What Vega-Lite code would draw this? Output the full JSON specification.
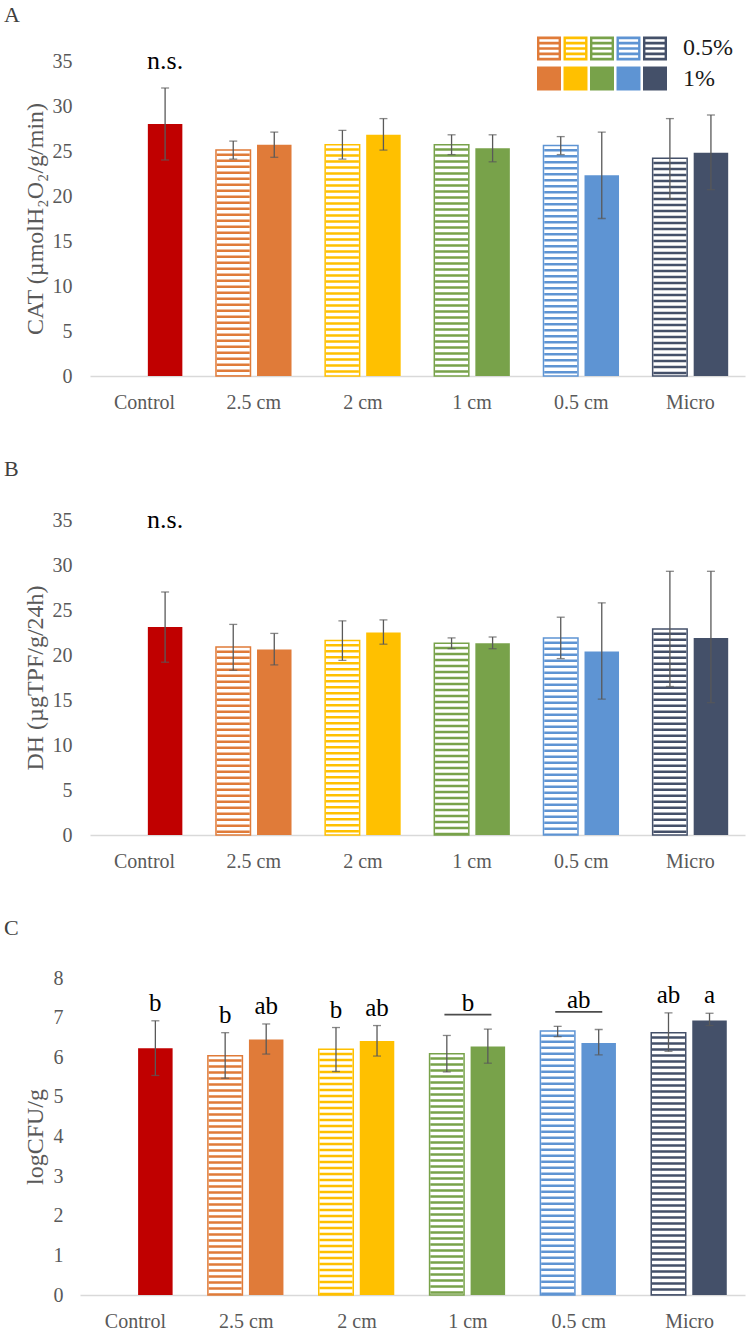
{
  "$schema": "https://vega.github.io/schema/vega-lite/v6.json",
  "background": "white",
  "padding": {"left": 4, "top": 4, "right": 0, "bottom": 0},
  "config": {
    "font": "Liberation Serif",
    "view": {"stroke": null},
    "axis": {"grid": false, "ticks": false, "labelFont": "Liberation Serif", "titleFont": "Liberation Serif", "labelColor": "#595959", "titleColor": "#595959", "labelFontSize": 20, "titleFontSize": 24, "titleFontWeight": "normal", "domainColor": "#D9D9D9"},
    "axisX": {"labelAngle": 0, "labelPadding": 16, "domainWidth": 1.5},
    "axisY": {"domain": false, "labelPadding": 18, "titlePadding": 5},
    "title": {"font": "Liberation Serif", "fontSize": 22, "fontWeight": "normal", "color": "#404040", "anchor": "start", "frame": "group"}
  },
  "columns": 1,
  "align": "none",
  "spacing": 46,
  "datasets": {
    "bars": [
      {"panel": "A", "group": "Control", "dose": "1%", "mean": 28.0, "lo": 24.0, "hi": 32.0, "note": "n.s."},
      {"panel": "A", "group": "2.5 cm", "dose": "0.5%", "mean": 25.1, "lo": 24.1, "hi": 26.1},
      {"panel": "A", "group": "2.5 cm", "dose": "1%", "mean": 25.7, "lo": 24.3, "hi": 27.1},
      {"panel": "A", "group": "2 cm", "dose": "0.5%", "mean": 25.7, "lo": 24.1, "hi": 27.3},
      {"panel": "A", "group": "2 cm", "dose": "1%", "mean": 26.8, "lo": 25.1, "hi": 28.6},
      {"panel": "A", "group": "1 cm", "dose": "0.5%", "mean": 25.7, "lo": 24.6, "hi": 26.8},
      {"panel": "A", "group": "1 cm", "dose": "1%", "mean": 25.3, "lo": 23.8, "hi": 26.8},
      {"panel": "A", "group": "0.5 cm", "dose": "0.5%", "mean": 25.6, "lo": 24.6, "hi": 26.6},
      {"panel": "A", "group": "0.5 cm", "dose": "1%", "mean": 22.3, "lo": 17.5, "hi": 27.1},
      {"panel": "A", "group": "Micro", "dose": "0.5%", "mean": 24.2, "lo": 19.7, "hi": 28.6},
      {"panel": "A", "group": "Micro", "dose": "1%", "mean": 24.8, "lo": 20.7, "hi": 29.0},
      {"panel": "B", "group": "Control", "dose": "1%", "mean": 23.1, "lo": 19.2, "hi": 27.0, "note": "n.s."},
      {"panel": "B", "group": "2.5 cm", "dose": "0.5%", "mean": 20.9, "lo": 18.3, "hi": 23.4},
      {"panel": "B", "group": "2.5 cm", "dose": "1%", "mean": 20.6, "lo": 18.9, "hi": 22.4},
      {"panel": "B", "group": "2 cm", "dose": "0.5%", "mean": 21.6, "lo": 19.4, "hi": 23.8},
      {"panel": "B", "group": "2 cm", "dose": "1%", "mean": 22.5, "lo": 21.2, "hi": 23.9},
      {"panel": "B", "group": "1 cm", "dose": "0.5%", "mean": 21.3, "lo": 20.7, "hi": 21.9},
      {"panel": "B", "group": "1 cm", "dose": "1%", "mean": 21.3, "lo": 20.7, "hi": 22.0},
      {"panel": "B", "group": "0.5 cm", "dose": "0.5%", "mean": 21.9, "lo": 19.6, "hi": 24.2},
      {"panel": "B", "group": "0.5 cm", "dose": "1%", "mean": 20.4, "lo": 15.1, "hi": 25.8},
      {"panel": "B", "group": "Micro", "dose": "0.5%", "mean": 22.9, "lo": 16.5, "hi": 29.3},
      {"panel": "B", "group": "Micro", "dose": "1%", "mean": 21.9, "lo": 14.7, "hi": 29.3},
      {"panel": "C", "group": "Control", "dose": "1%", "mean": 6.23, "lo": 5.54, "hi": 6.92, "letter": "b"},
      {"panel": "C", "group": "2.5 cm", "dose": "0.5%", "mean": 6.04, "lo": 5.47, "hi": 6.62, "letter": "b"},
      {"panel": "C", "group": "2.5 cm", "dose": "1%", "mean": 6.45, "lo": 6.08, "hi": 6.84, "letter": "ab"},
      {"panel": "C", "group": "2 cm", "dose": "0.5%", "mean": 6.2, "lo": 5.64, "hi": 6.75, "letter": "b"},
      {"panel": "C", "group": "2 cm", "dose": "1%", "mean": 6.41, "lo": 6.03, "hi": 6.8, "letter": "ab"},
      {"panel": "C", "group": "1 cm", "dose": "0.5%", "mean": 6.09, "lo": 5.63, "hi": 6.55, "gletter": "b"},
      {"panel": "C", "group": "1 cm", "dose": "1%", "mean": 6.27, "lo": 5.85, "hi": 6.71},
      {"panel": "C", "group": "0.5 cm", "dose": "0.5%", "mean": 6.66, "lo": 6.52, "hi": 6.78, "gletter": "ab"},
      {"panel": "C", "group": "0.5 cm", "dose": "1%", "mean": 6.36, "lo": 6.06, "hi": 6.7},
      {"panel": "C", "group": "Micro", "dose": "0.5%", "mean": 6.62, "lo": 6.15, "hi": 7.12, "letter": "ab"},
      {"panel": "C", "group": "Micro", "dose": "1%", "mean": 6.93, "lo": 6.8, "hi": 7.11, "letter": "a"}
    ],
    "legend": [
      {"key": "2.5 cm", "row": "0.5%"}, {"key": "2 cm", "row": "0.5%"}, {"key": "1 cm", "row": "0.5%"}, {"key": "0.5 cm", "row": "0.5%"}, {"key": "Micro", "row": "0.5%"},
      {"key": "2.5 cm", "row": "1%"}, {"key": "2 cm", "row": "1%"}, {"key": "1 cm", "row": "1%"}, {"key": "0.5 cm", "row": "1%"}, {"key": "Micro", "row": "1%"}
    ]
  },
  "concat": [
    {
      "width": 655, "height": 315,
      "title": {"text": "A", "dx": -86, "offset": 9},
      "layer": [
        {
          "data": {"name": "bars"},
          "transform": [{"filter": "datum.panel === 'A'"}],
          "layer": [
            {"transform": [{"filter": "datum.dose === '0.5%'"}],
             "mark": {"type": "bar", "fill": "white", "strokeWidth": 1.5},
             "encoding": {
               "x": {"field": "group", "type": "nominal", "title": null, "scale": {"domain": ["Control", "2.5 cm", "2 cm", "1 cm", "0.5 cm", "Micro"], "paddingInner": 0.308, "paddingOuter": 0.154}},
               "xOffset": {"field": "dose", "type": "nominal", "scale": {"domain": ["0.5%", "1%"], "paddingInner": 0.159, "paddingOuter": 0}},
               "y": {"field": "mean", "type": "quantitative", "title": "CAT (µmolH₂O₂/g/min)", "scale": {"domain": [0, 35], "nice": false}},
               "stroke": {"field": "group", "type": "nominal", "scale": {"domain": ["Control", "2.5 cm", "2 cm", "1 cm", "0.5 cm", "Micro"], "range": ["#C00000", "#E07B39", "#FFC000", "#78A24A", "#5E94D3", "#445069"]}, "legend": null}
             }},
            {"transform": [{"filter": "datum.dose === '0.5%'"}],
             "mark": {"type": "rule", "strokeWidth": 33, "strokeDash": [2.5, 3.5], "strokeDashOffset": 2.5},
             "encoding": {
               "x": {"field": "group", "type": "nominal", "title": null},
               "xOffset": {"field": "dose", "type": "nominal"},
               "y": {"field": "mean", "type": "quantitative", "title": "CAT (µmolH₂O₂/g/min)"},
               "y2": {"datum": 0},
               "stroke": {"field": "group", "type": "nominal", "legend": null}
             }},
            {"transform": [{"filter": "datum.dose === '1%'"}],
             "mark": {"type": "bar"},
             "encoding": {
               "x": {"field": "group", "type": "nominal", "title": null},
               "xOffset": {"field": "dose", "type": "nominal"},
               "y": {"field": "mean", "type": "quantitative", "title": "CAT (µmolH₂O₂/g/min)"},
               "fill": {"field": "group", "type": "nominal", "scale": {"domain": ["Control", "2.5 cm", "2 cm", "1 cm", "0.5 cm", "Micro"], "range": ["#C00000", "#E07B39", "#FFC000", "#78A24A", "#5E94D3", "#445069"]}, "legend": null}
             }},
            {"mark": {"type": "rule", "color": "#595959", "strokeWidth": 1.3},
             "encoding": {
               "x": {"field": "group", "type": "nominal", "title": null},
               "xOffset": {"field": "dose", "type": "nominal"},
               "y": {"field": "lo", "type": "quantitative", "title": "CAT (µmolH₂O₂/g/min)"},
               "y2": {"field": "hi"}
             }},
            {"mark": {"type": "tick", "color": "#595959", "size": 8, "thickness": 1.3},
             "encoding": {
               "x": {"field": "group", "type": "nominal", "title": null},
               "xOffset": {"field": "dose", "type": "nominal"},
               "y": {"field": "lo", "type": "quantitative", "title": "CAT (µmolH₂O₂/g/min)"}
             }},
            {"mark": {"type": "tick", "color": "#595959", "size": 8, "thickness": 1.3},
             "encoding": {
               "x": {"field": "group", "type": "nominal", "title": null},
               "xOffset": {"field": "dose", "type": "nominal"},
               "y": {"field": "hi", "type": "quantitative", "title": "CAT (µmolH₂O₂/g/min)"}
             }},
            {"transform": [{"filter": "datum.note"}],
             "mark": {"type": "text", "fontSize": 26, "color": "#000000", "baseline": "middle"},
             "encoding": {
               "x": {"field": "group", "type": "nominal", "title": null},
               "xOffset": {"field": "dose", "type": "nominal"},
               "y": {"datum": 35, "type": "quantitative", "title": "CAT (µmolH₂O₂/g/min)"},
               "text": {"field": "note"}
             }}
          ]
        },
        {
          "data": {"name": "legend"},
          "layer": [
            {"mark": {"type": "point", "filled": true, "size": 576, "opacity": 1, "strokeWidth": 0},
             "encoding": {
               "x": {"field": "key", "type": "nominal", "scale": {"type": "band", "domain": ["2.5 cm", "2 cm", "1 cm", "0.5 cm", "Micro"], "range": [447, 577], "paddingInner": 0.094, "paddingOuter": 0}, "axis": null},
               "y": {"field": "row", "type": "nominal", "scale": {"type": "band", "domain": ["0.5%", "1%"], "range": [-25, 30], "paddingInner": 0.167, "paddingOuter": 0}, "axis": null},
               "shape": {"field": "row", "type": "nominal", "scale": {"domain": ["0.5%", "1%"], "range": ["M-1,-1H1V1H-1Z M-0.8,-0.78V-0.56H0.8V-0.78Z M-0.8,-0.33V-0.11H0.8V-0.33Z M-0.8,0.11V0.33H0.8V0.11Z M-0.8,0.56V0.78H0.8V0.56Z", "square"]}, "legend": null},
               "fill": {"field": "key", "type": "nominal", "legend": null}
             }},
            {"transform": [{"filter": "datum.key === 'Micro'"}],
             "mark": {"type": "text", "align": "left", "baseline": "middle", "dx": 28, "fontSize": 24, "color": "#1a1a1a"},
             "encoding": {
               "x": {"field": "key", "type": "nominal", "axis": null},
               "y": {"field": "row", "type": "nominal", "axis": null},
               "text": {"field": "row"}
             }}
          ]
        }
      ],
      "resolve": {"scale": {"x": "independent", "y": "independent"}}
    },
    {
      "width": 655, "height": 315,
      "title": {"text": "B", "dx": -86, "offset": 26},
      "data": {"name": "bars"},
      "transform": [{"filter": "datum.panel === 'B'"}],
      "layer": [
        {"transform": [{"filter": "datum.dose === '0.5%'"}],
         "mark": {"type": "bar", "fill": "white", "strokeWidth": 1.5},
         "encoding": {
           "x": {"field": "group", "type": "nominal", "title": null, "scale": {"domain": ["Control", "2.5 cm", "2 cm", "1 cm", "0.5 cm", "Micro"], "paddingInner": 0.308, "paddingOuter": 0.154}},
           "xOffset": {"field": "dose", "type": "nominal", "scale": {"domain": ["0.5%", "1%"], "paddingInner": 0.159, "paddingOuter": 0}},
           "y": {"field": "mean", "type": "quantitative", "title": "DH (µgTPF/g/24h)", "scale": {"domain": [0, 35], "nice": false}},
           "stroke": {"field": "group", "type": "nominal", "scale": {"domain": ["Control", "2.5 cm", "2 cm", "1 cm", "0.5 cm", "Micro"], "range": ["#C00000", "#E07B39", "#FFC000", "#78A24A", "#5E94D3", "#445069"]}, "legend": null}
         }},
        {"transform": [{"filter": "datum.dose === '0.5%'"}],
         "mark": {"type": "rule", "strokeWidth": 33, "strokeDash": [2.5, 3.5], "strokeDashOffset": 2.5},
         "encoding": {
           "x": {"field": "group", "type": "nominal", "title": null},
           "xOffset": {"field": "dose", "type": "nominal"},
           "y": {"field": "mean", "type": "quantitative", "title": "DH (µgTPF/g/24h)"},
           "y2": {"datum": 0},
           "stroke": {"field": "group", "type": "nominal", "legend": null}
         }},
        {"transform": [{"filter": "datum.dose === '1%'"}],
         "mark": {"type": "bar"},
         "encoding": {
           "x": {"field": "group", "type": "nominal", "title": null},
           "xOffset": {"field": "dose", "type": "nominal"},
           "y": {"field": "mean", "type": "quantitative", "title": "DH (µgTPF/g/24h)"},
           "fill": {"field": "group", "type": "nominal", "scale": {"domain": ["Control", "2.5 cm", "2 cm", "1 cm", "0.5 cm", "Micro"], "range": ["#C00000", "#E07B39", "#FFC000", "#78A24A", "#5E94D3", "#445069"]}, "legend": null}
         }},
        {"mark": {"type": "rule", "color": "#595959", "strokeWidth": 1.3},
         "encoding": {
           "x": {"field": "group", "type": "nominal", "title": null},
           "xOffset": {"field": "dose", "type": "nominal"},
           "y": {"field": "lo", "type": "quantitative", "title": "DH (µgTPF/g/24h)"},
           "y2": {"field": "hi"}
         }},
        {"mark": {"type": "tick", "color": "#595959", "size": 8, "thickness": 1.3},
         "encoding": {
           "x": {"field": "group", "type": "nominal", "title": null},
           "xOffset": {"field": "dose", "type": "nominal"},
           "y": {"field": "lo", "type": "quantitative", "title": "DH (µgTPF/g/24h)"}
         }},
        {"mark": {"type": "tick", "color": "#595959", "size": 8, "thickness": 1.3},
         "encoding": {
           "x": {"field": "group", "type": "nominal", "title": null},
           "xOffset": {"field": "dose", "type": "nominal"},
           "y": {"field": "hi", "type": "quantitative", "title": "DH (µgTPF/g/24h)"}
         }},
        {"transform": [{"filter": "datum.note"}],
         "mark": {"type": "text", "fontSize": 26, "color": "#000000", "baseline": "middle"},
         "encoding": {
           "x": {"field": "group", "type": "nominal", "title": null},
           "xOffset": {"field": "dose", "type": "nominal"},
           "y": {"datum": 35, "type": "quantitative", "title": "DH (µgTPF/g/24h)"},
           "text": {"field": "note"}
         }}
      ]
    },
    {
      "width": 655, "height": 317,
      "title": {"text": "C", "dx": -86, "offset": 28},
      "data": {"name": "bars"},
      "transform": [{"filter": "datum.panel === 'C'"}],
      "layer": [
        {"transform": [{"filter": "datum.dose === '0.5%'"}],
         "mark": {"type": "bar", "fill": "white", "strokeWidth": 1.5},
         "encoding": {
           "x": {"field": "group", "type": "nominal", "title": null, "scale": {"domain": ["Control", "2.5 cm", "2 cm", "1 cm", "0.5 cm", "Micro"], "range": [-10, 655], "paddingInner": 0.308, "paddingOuter": 0.154}},
           "xOffset": {"field": "dose", "type": "nominal", "scale": {"domain": ["0.5%", "1%"], "paddingInner": 0.159, "paddingOuter": 0}},
           "y": {"field": "mean", "type": "quantitative", "title": "logCFU/g", "scale": {"domain": [0, 8], "nice": false}, "axis": {"labelPadding": 27, "titlePadding": 6}},
           "stroke": {"field": "group", "type": "nominal", "scale": {"domain": ["Control", "2.5 cm", "2 cm", "1 cm", "0.5 cm", "Micro"], "range": ["#C00000", "#E07B39", "#FFC000", "#78A24A", "#5E94D3", "#445069"]}, "legend": null}
         }},
        {"transform": [{"filter": "datum.dose === '0.5%'"}],
         "mark": {"type": "rule", "strokeWidth": 33, "strokeDash": [2.5, 3.5], "strokeDashOffset": 2.5},
         "encoding": {
           "x": {"field": "group", "type": "nominal", "title": null},
           "xOffset": {"field": "dose", "type": "nominal"},
           "y": {"field": "mean", "type": "quantitative", "title": "logCFU/g", "axis": {"labelPadding": 27, "titlePadding": 6}},
           "y2": {"datum": 0},
           "stroke": {"field": "group", "type": "nominal", "legend": null}
         }},
        {"transform": [{"filter": "datum.dose === '1%'"}],
         "mark": {"type": "bar"},
         "encoding": {
           "x": {"field": "group", "type": "nominal", "title": null},
           "xOffset": {"field": "dose", "type": "nominal"},
           "y": {"field": "mean", "type": "quantitative", "title": "logCFU/g", "axis": {"labelPadding": 27, "titlePadding": 6}},
           "fill": {"field": "group", "type": "nominal", "scale": {"domain": ["Control", "2.5 cm", "2 cm", "1 cm", "0.5 cm", "Micro"], "range": ["#C00000", "#E07B39", "#FFC000", "#78A24A", "#5E94D3", "#445069"]}, "legend": null}
         }},
        {"mark": {"type": "rule", "color": "#595959", "strokeWidth": 1.3},
         "encoding": {
           "x": {"field": "group", "type": "nominal", "title": null},
           "xOffset": {"field": "dose", "type": "nominal"},
           "y": {"field": "lo", "type": "quantitative", "title": "logCFU/g", "axis": {"labelPadding": 27, "titlePadding": 6}},
           "y2": {"field": "hi"}
         }},
        {"mark": {"type": "tick", "color": "#595959", "size": 8, "thickness": 1.3},
         "encoding": {
           "x": {"field": "group", "type": "nominal", "title": null},
           "xOffset": {"field": "dose", "type": "nominal"},
           "y": {"field": "lo", "type": "quantitative", "title": "logCFU/g", "axis": {"labelPadding": 27, "titlePadding": 6}}
         }},
        {"mark": {"type": "tick", "color": "#595959", "size": 8, "thickness": 1.3},
         "encoding": {
           "x": {"field": "group", "type": "nominal", "title": null},
           "xOffset": {"field": "dose", "type": "nominal"},
           "y": {"field": "hi", "type": "quantitative", "title": "logCFU/g", "axis": {"labelPadding": 27, "titlePadding": 6}}
         }},
        {"transform": [{"filter": "datum.letter"}],
         "mark": {"type": "text", "fontSize": 25, "color": "#000000", "baseline": "alphabetic", "dy": -10},
         "encoding": {
           "x": {"field": "group", "type": "nominal", "title": null},
           "xOffset": {"field": "dose", "type": "nominal"},
           "y": {"field": "hi", "type": "quantitative", "title": "logCFU/g", "axis": {"labelPadding": 27, "titlePadding": 6}},
           "text": {"field": "letter"}
         }},
        {"transform": [{"joinaggregate": [{"op": "max", "field": "hi", "as": "gmax"}], "groupby": ["group"]}, {"filter": "datum.gletter"}],
         "mark": {"type": "text", "fontSize": 25, "color": "#000000", "baseline": "alphabetic", "dy": -18},
         "encoding": {
           "x": {"field": "group", "type": "nominal", "title": null},
           "y": {"field": "gmax", "type": "quantitative", "title": "logCFU/g", "axis": {"labelPadding": 27, "titlePadding": 6}},
           "text": {"field": "gletter"}
         }},
        {"transform": [{"joinaggregate": [{"op": "max", "field": "hi", "as": "gmax"}], "groupby": ["group"]}, {"filter": "datum.gletter"}],
         "mark": {"type": "tick", "color": "#000000", "size": 47, "thickness": 1.6, "yOffset": -14.5},
         "encoding": {
           "x": {"field": "group", "type": "nominal", "title": null},
           "y": {"field": "gmax", "type": "quantitative", "title": "logCFU/g", "axis": {"labelPadding": 27, "titlePadding": 6}}
         }}
      ]
    }
  ]
}
